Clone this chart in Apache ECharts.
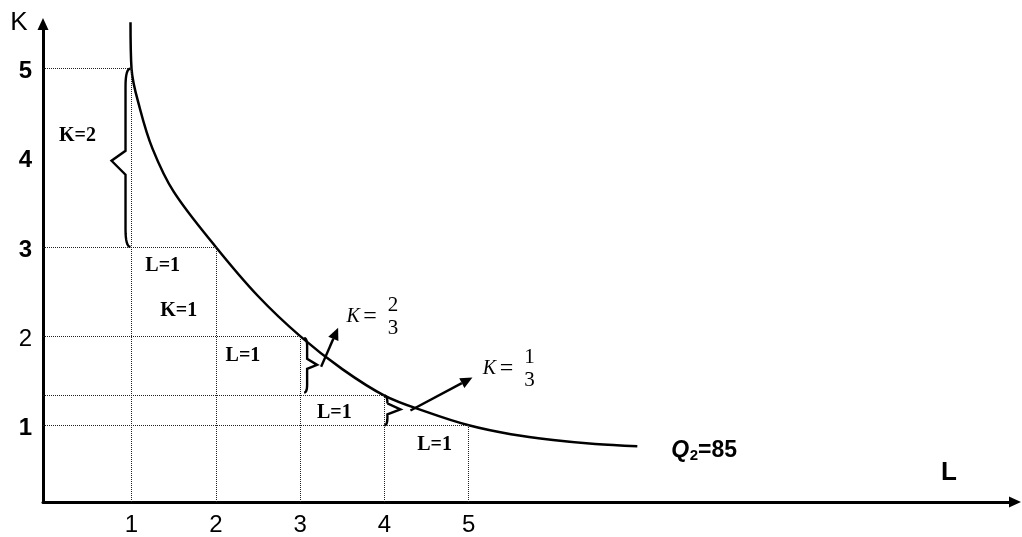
<!DOCTYPE html>
<html>
<head>
<meta charset="utf-8">
<script src="https://cdn.jsdelivr.net/npm/echarts@6/dist/echarts.min.js"></script>
<style>
  html, body { margin: 0; padding: 0; background: #fff; }
  #chart { width: 1022px; height: 537px; }
</style>
</head>
<body>
<div id="chart"></div>
<script>
// Isoquant Q2 = 85: labour (L) against capital (K)
const isoquantL = [0.988, 1, 1.1, 1.25, 1.5, 2, 2.5, 3, 3.5, 4, 4.5, 5, 5.5, 6, 6.5, 7];
const isoquantK = [5.52, 5, 4.55, 4.1, 3.62, 3, 2.45, 2, 1.63, 4 / 3, 1.15, 1, 0.9, 0.835, 0.79, 0.765];

// Marked combinations on the isoquant
const keyL = [1, 2, 3, 4, 5];
const keyK = [5, 3, 2, 4 / 3, 1];

// Tick labels
const tickL = [1, 2, 3, 4, 5];
const tickK = [1, 2, 3, 4, 5];

// Step annotations
const stepTexts = ['K=2', 'L=1', 'K=1', 'L=1', 'L=1', 'L=1'];
const curveName = ['Q', '2', '=85'];

const SANS = "'Liberation Sans',Arial,sans-serif";
const SERIF = "'Liberation Serif','Times New Roman',serif";

const xMin = -0.05, xMax = 11.48, yMin = 0.14, yMax = 5.5;

const chart = echarts.init(document.getElementById('chart'));

// dotted guides from each marked point to both axes
const guides = [];
keyL.forEach((l, i) => {
  const k = keyK[i];
  guides.push([{ coord: [xMin, k] }, { coord: [l, k] }]);
  guides.push([{ coord: [l, yMin] }, { coord: [l, k] }]);
});

chart.setOption({
  animation: false,
  grid: { left: 43, right: 7, top: 24, bottom: 33 },
  xAxis: {
    type: 'value', min: xMin, max: xMax,
    axisLine: { onZero: false, lineStyle: { color: '#000', width: 3 }, symbol: ['none', 'triangle'], symbolSize: [11, 12] },
    axisTick: { show: false },
    splitLine: { show: false },
    axisLabel: { customValues: tickL, margin: 11, color: '#000', fontSize: 24, fontFamily: SANS }
  },
  yAxis: {
    type: 'value', min: yMin, max: yMax,
    axisLine: { onZero: false, lineStyle: { color: '#000', width: 3 }, symbol: ['none', 'triangle'], symbolSize: [11, 12] },
    axisTick: { show: false },
    splitLine: { show: false },
    axisLabel: {
      customValues: tickK, margin: 11,
      formatter: v => (v === 2 ? '{r|' : '{b|') + v + '}',
      rich: {
        b: { fontSize: 24, fontWeight: 'bold', fontFamily: SANS, color: '#000', padding: [6, 0, 0, 0] },
        r: { fontSize: 24, fontFamily: SANS, color: '#000', padding: [6, 0, 0, 0] }
      }
    }
  },
  series: [
    {
      type: 'scatter',
      data: keyL.map((l, i) => [l, keyK[i]]),
      symbolSize: 0,
      silent: true,
      z: 1,
      markLine: {
        silent: true,
        symbol: ['none', 'none'],
        label: { show: false },
        lineStyle: { type: 'dotted', color: '#222', width: 1 },
        data: guides
      }
    },
    {
      type: 'line',
      data: isoquantL.map((l, i) => [l, isoquantK[i]]),
      smooth: 0.35,
      symbol: 'none',
      clip: false,
      lineStyle: { color: '#000', width: 2.5 },
      z: 3
    }
  ]
});

// ---- annotations placed from data coordinates ----
const px = (l, k) => chart.convertToPixel({ gridIndex: 0 }, [l, k]);
const ctx = document.createElement('canvas').getContext('2d');
const textWidth = (t, f) => { ctx.font = f; return ctx.measureText(t).width; };

function quad(a, c, b, t) {
  const u = 1 - t;
  return [u * u * a[0] + 2 * u * t * c[0] + t * t * b[0], u * u * a[1] + 2 * u * t * c[1] + t * t * b[1]];
}
// vertical curly brace; dir +1 points right, -1 points left
function brace(bx, y1, y2, tipY, dir, o) {
  const c = -dir * o.curl, pts = [];
  for (let t = 0; t <= 1.0001; t += 0.125) pts.push(quad([bx + c, y1], [bx, y1], [bx, y1 + o.hook], t));
  pts.push([bx, tipY - o.up], [bx + dir * o.depth, tipY], [bx, tipY + o.down], [bx, y2 - o.hook]);
  for (let t = 0; t <= 1.0001; t += 0.125) pts.push(quad([bx, y2 - o.hook], [bx, y2], [bx + c, y2], t));
  return { type: 'polyline', z: 10, silent: true, shape: { points: pts }, style: { stroke: '#000', lineWidth: 2.4, fill: null } };
}
function arrow(p0, p1) {
  const a = Math.atan2(p1[1] - p0[1], p1[0] - p0[0]), len = 12, half = 5.5;
  const base = [p1[0] - len * Math.cos(a), p1[1] - len * Math.sin(a)];
  const nx = -Math.sin(a) * half, ny = Math.cos(a) * half;
  return [
    { type: 'line', z: 10, silent: true, shape: { x1: p0[0], y1: p0[1], x2: base[0], y2: base[1] }, style: { stroke: '#000', lineWidth: 2.4 } },
    { type: 'polygon', z: 10, silent: true, shape: { points: [p1, [base[0] + nx, base[1] + ny], [base[0] - nx, base[1] - ny]] }, style: { fill: '#000' } }
  ];
}
function text(t, x, y, font, align) {
  return { type: 'text', z: 10, silent: true, x: x, y: y, style: { text: t, font: font, fill: '#000', align: align || 'center', verticalAlign: 'middle' } };
}
function fraction(anchor, num, den) {
  const fK = 'italic 20px ' + SERIF, fN = '21px ' + SERIF, fE = '24px ' + SERIF;
  return [
    text('K', anchor[0] + 15, anchor[1] - 11, fK),
    text('=', anchor[0] + 32, anchor[1] - 11, fE),
    text(num, anchor[0] + 55, anchor[1] - 22, fN),
    text(den, anchor[0] + 55, anchor[1] + 1, fN)
  ];
}

const els = [];
const bold20 = 'bold 20px ' + SERIF;

// brace for the drop from K=5 to K=3
const pA = px(1, 5), pA2 = px(1, 3), pA4 = px(1, 4);
const tipA = [pA[0] - 20, (pA[1] + pA2[1]) / 2 + 3];
els.push(brace(pA[0] - 6, pA[1], pA2[1], tipA[1], -1, { curl: 5, hook: 18, up: 10, depth: 14, down: 14 }));
els.push(text(stepTexts[0], pA4[0] - 54, pA4[1] - 22, bold20));

// step labels
const m1 = px(1.5, 3), m2 = px(1.5, 2.5), m3 = px(2.5, 2), m4 = px(3.5, 4 / 3), m5 = px(4.5, 1);
els.push(text(stepTexts[1], m1[0] - 11, m1[1] + 19, bold20));
els.push(text(stepTexts[2], m2[0] + 5, m2[1] + 19, bold20));
els.push(text(stepTexts[3], m3[0] - 15, m3[1] + 20, bold20));
els.push(text(stepTexts[4], m4[0] - 8, m4[1] + 17, bold20));
els.push(text(stepTexts[5], m5[0] + 8, m5[1] + 20, bold20));

// brace for K from 2 to 4/3 at L=3
const pB1 = px(3, 2), pB2 = px(3, 4 / 3);
const tipB = [pB1[0] + 17, (pB1[1] + pB2[1]) / 2 - 1];
els.push(brace(pB1[0] + 7, pB1[1] + 2, pB2[1] - 3, tipB[1], 1, { curl: 3, hook: 8, up: 6, depth: 10, down: 4 }));
const endB = [tipB[0] + 21, tipB[1] - 37];
els.push(...arrow([tipB[0] + 4, tipB[1] + 2], endB));
els.push(...fraction(endB, '2', '3'));

// brace for K from 4/3 to 1 at L=4
const pC1 = px(4, 4 / 3), pC2 = px(4, 1);
const tipC = [pC1[0] + 16, (pC1[1] + pC2[1]) / 2 - 1];
els.push(brace(pC1[0] + 3, pC1[1], pC2[1], tipC[1], 1, { curl: 3, hook: 8, up: 6, depth: 13, down: 5 }));
const endC = [tipC[0] + 72, tipC[1] - 32];
els.push(...arrow([tipC[0] + 10, tipC[1] + 1], endC));
els.push(...fraction([endC[0] + 2, endC[1] + 2], '1', '3'));

// curve name at its right end
const last = px(isoquantL[isoquantL.length - 1], isoquantK[isoquantK.length - 1]);
const fQ = 'italic bold 23px ' + SANS, fSub = 'bold 15px ' + SANS, fEq = 'bold 23px ' + SANS;
let qx = last[0] + 34;
const qy = last[1] + 4;
els.push(text(curveName[0], qx, qy, fQ, 'left'));
qx += textWidth(curveName[0], fQ) + 0.5;
els.push(text(curveName[1], qx, qy + 6, fSub, 'left'));
qx += textWidth(curveName[1], fSub);
els.push(text(curveName[2], qx, qy, fEq, 'left'));

// axis titles
const xEnd = px(xMax, yMin), yTop = px(xMin, yMax);
els.push(text('L', xEnd[0] - 66, xEnd[1] - 29, 'bold 26px ' + SANS));
els.push(text('K', yTop[0] - 24, yTop[1] - 1, '26px ' + SANS));

chart.setOption({ graphic: { elements: els } });
</script>
</body>
</html>
